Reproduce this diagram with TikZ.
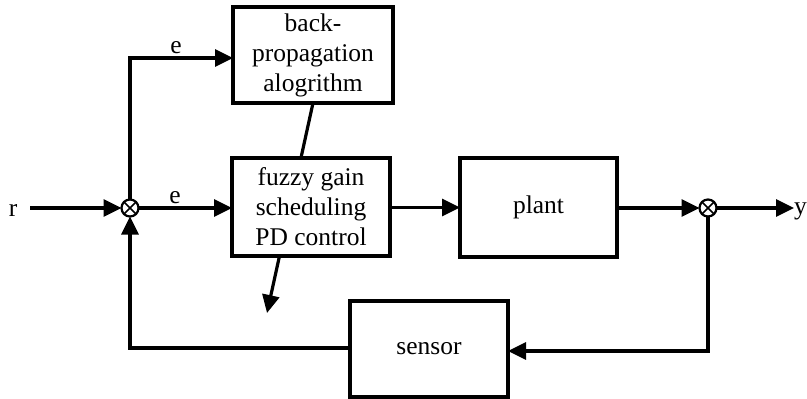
\documentclass[tikz,border=0pt]{standalone}
\usepackage{fontspec}
\setmainfont{Liberation Serif}
\usetikzlibrary{arrows.meta,calc}
\begin{document}
\begin{tikzpicture}[x=1pt,y=-1pt,
  blk/.style={draw,line width=3.2pt,fill=white,inner sep=0pt,outer sep=0pt,align=center,
     font=\fontsize{25.5}{30}\selectfont},
  lbl/.style={font=\fontsize{25.5}{30}\selectfont,inner sep=0pt},
  conn/.style={line width=3.2pt},
  arr/.style={conn,-{Triangle[length=18pt,width=17pt]}},
  sumj/.style={circle,draw,line width=2.2pt,fill=white,minimum size=17pt,inner sep=0pt,outer sep=0pt}]
\useasboundingbox (0,0) rectangle (807,399);
% blocks
\node[blk,minimum width=160pt,minimum height=96pt] (bp) at (313,55) {back-\\propagation\\alogrithm};
\coordinate (tip) at (267,313);
\draw[arr] (bp.south) -- (tip);
\node[blk,minimum width=158pt,minimum height=98pt] (fz) at (311,207) {fuzzy gain\\scheduling\\PD control};
\node[blk,minimum width=157pt,minimum height=99pt] (pl) at (538.5,207.5) {plant};
\node[blk,minimum width=158pt,minimum height=96pt] (se) at (429,349) {sensor};
% summing junctions
\node[sumj] (s1) at (130,208) {};
\draw[line width=1.6pt] (s1.north west) -- (s1.south east) (s1.north east) -- (s1.south west);
\node[sumj] (s2) at (708,208) {};
\draw[line width=1.6pt] (s2.north west) -- (s2.south east) (s2.north east) -- (s2.south west);
% labels
\node[lbl] (r) at (13,210) {r};
\coordinate (rin) at (30,208);
\node[lbl,anchor=west] (yl) at (794,211) {y};
\node[lbl] (e1) at (176,48) {e};
\node[lbl] (e2) at (175,198) {e};
% connectors
\draw[arr] (rin) -- (s1.west);
\draw[arr] (s1.east) -- (fz.west |- s1.east);
\draw[arr] (s1.north) |- ($(bp.west)+(0,3)$);
\draw[arr] (fz.east |- pl.west) -- (pl.west);
\draw[arr] (pl.east |- s2.west) -- (s2.west);
\draw[arr] (s2.east) -- (yl.west |- s2.east);
\draw[arr] (s2.south) |- ($(se.east)+(0,2)$);
\draw[arr] ($(se.west)+(0,-1)$) -| (s1.south);
\end{tikzpicture}
\end{document}
